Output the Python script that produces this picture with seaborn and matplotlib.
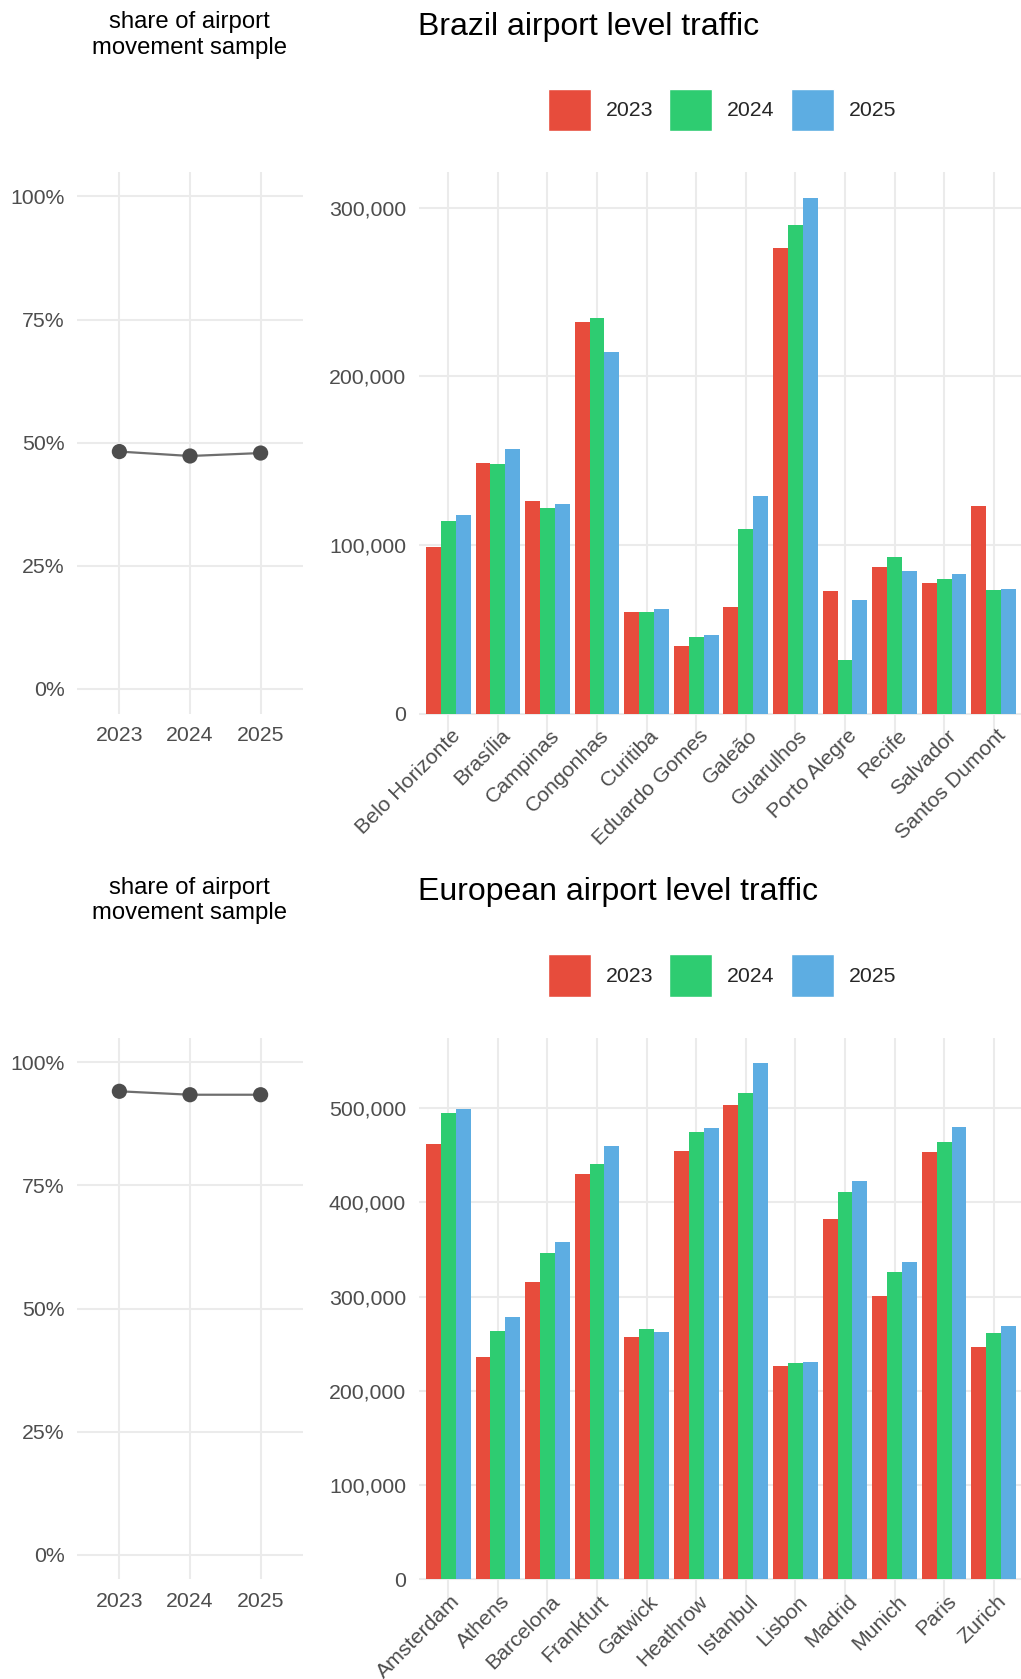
import numpy as np
import pandas as pd
import matplotlib
matplotlib.use("Agg")
import matplotlib.pyplot as plt
import matplotlib.transforms as mtransforms
import seaborn as sns
from matplotlib.ticker import FuncFormatter

# ---------------- data ----------------
years = ["2023", "2024", "2025"]

brazil_airports = ["Belo Horizonte", "Brasília", "Campinas", "Congonhas", "Curitiba",
                   "Eduardo Gomes", "Galeão", "Guarulhos", "Porto Alegre", "Recife",
                   "Salvador", "Santos Dumont"]
brazil_2023 = [98700, 148600, 126000, 231900, 60300, 40200, 63200, 276300, 72700, 86900, 77600, 123000]
brazil_2024 = [114200, 148000, 122000, 234500, 60300, 45500, 109500, 289400, 31900, 92800, 79900, 73400]
brazil_2025 = [117800, 156900, 124300, 214200, 62200, 46700, 129000, 305900, 67400, 84600, 82900, 74000]
brazil_share = [0.482, 0.473, 0.479]

europe_airports = ["Amsterdam", "Athens", "Barcelona", "Frankfurt", "Gatwick", "Heathrow",
                   "Istanbul", "Lisbon", "Madrid", "Munich", "Paris", "Zurich"]
europe_2023 = [461400, 236400, 315200, 429500, 256800, 454900, 502700, 226900, 381800, 301100, 453800, 247000]
europe_2024 = [494300, 264000, 345800, 440200, 265200, 474200, 515500, 229200, 411400, 326500, 464400, 261000]
europe_2025 = [498500, 278800, 358300, 460200, 262900, 478400, 547300, 230300, 423100, 337100, 480300, 269300]
europe_share = [0.941, 0.934, 0.934]

titles = ["Brazil airport level traffic", "European airport level traffic"]
side_title = "share of airport\nmovement sample"
brazil_ticks = [0, 100000, 200000, 300000]
europe_ticks = [0, 100000, 200000, 300000, 400000, 500000]
share_ticks = [0, 0.25, 0.5, 0.75, 1.0]

palette = {"2023": "#E74C3C", "2024": "#2ECC71", "2025": "#5DADE2"}

# ---------------- style ----------------
sns.set_theme(style="white")
plt.rcParams["font.family"] = ["Liberation Sans", "DejaVu Sans"]

W, H = 1021, 1679
fig = plt.figure(figsize=(W / 100, H / 100), dpi=100)

TICK_FS = 15.3
TICK_COLOR = "#4D4D4D"
GRID_COLOR = "#EBEBEB"


def ax_at(x0, x1, y0, y1):
    return fig.add_axes([x0 / W, 1 - y1 / H, (x1 - x0) / W, (y1 - y0) / H])


def style_ax(ax):
    for s in ax.spines.values():
        s.set_visible(False)
    ax.grid(True, color=GRID_COLOR, linewidth=1.5)
    ax.set_axisbelow(True)
    ax.tick_params(length=0, labelsize=TICK_FS, colors=TICK_COLOR, pad=9)
    ax.set_xlabel("")
    ax.set_ylabel("")


def section(off, airports, v23, v24, v25, share, yticks, title):
    # left: share line chart
    axl = ax_at(77, 303, 171.8 + off, 713.6 + off)
    dfl = pd.DataFrame({"year": years, "share": share})
    sns.lineplot(data=dfl, x="year", y="share", ax=axl, color="#6E6E6E", linewidth=1.6, sort=False)
    sns.scatterplot(data=dfl, x="year", y="share", ax=axl, color="#4D4D4D", s=120,
                    edgecolor="none", zorder=3)
    axl.set_xlim(-0.6, 2.6)
    axl.set_ylim(-0.05, 1.05)
    axl.set_yticks(share_ticks)
    axl.yaxis.set_major_formatter(FuncFormatter(lambda v, p: f"{v * 100:.0f}%"))
    style_ax(axl)

    # right: bar chart
    axb = ax_at(418.5, 1021, 171.8 + off, 739.5 + off)
    n = len(airports)
    df = pd.DataFrame({
        "airport": airports * 3,
        "year": [years[0]] * n + [years[1]] * n + [years[2]] * n,
        "movements": v23 + v24 + v25,
    })
    sns.barplot(data=df, x="airport", y="movements", hue="year", palette=palette,
                ax=axb, width=0.9, dodge=True, saturation=1, errorbar=None)
    handles, labels = axb.get_legend_handles_labels()
    if axb.get_legend() is not None:
        axb.get_legend().remove()
    for c in axb.containers:
        for p in c:
            p.set_edgecolor("none")
    vmax = df["movements"].max()
    axb.set_ylim(-0.05 * vmax, 1.05 * vmax)
    axb.set_xlim(-0.6, n - 0.45)
    axb.set_yticks(yticks)
    axb.yaxis.set_major_formatter(FuncFormatter(lambda v, p: f"{v:,.0f}"))
    style_ax(axb)
    axb.tick_params(axis="x", pad=12)
    shift = mtransforms.ScaledTranslation(0.09, 0.235, fig.dpi_scale_trans)
    for lab in axb.get_xticklabels():
        lab.set_rotation(45)
        lab.set_rotation_mode("anchor")
        lab.set_ha("right")
        lab.set_va("center")
        lab.set_transform(lab.get_transform() + shift)

    # texts
    fig.text(189.4 / W, 1 - (35 + off) / H, side_title, ha="center", va="center",
             fontsize=17.2, color="black", linespacing=1.2)
    fig.text(418.4 / W, 1 - (26.5 + off) / H, title, ha="left", va="center",
             fontsize=23, color="black")

    fig.legend(handles, labels, loc="center", bbox_to_anchor=(722 / W, 1 - (110 + off) / H),
               ncol=3, frameon=False, handlelength=2.02, handleheight=2.73,
               handletextpad=0.7, columnspacing=0.75, borderpad=0, borderaxespad=0,
               fontsize=TICK_FS)


section(0, brazil_airports, brazil_2023, brazil_2024, brazil_2025, brazil_share,
        brazil_ticks, titles[0])
section(865.8, europe_airports, europe_2023, europe_2024, europe_2025, europe_share,
        europe_ticks, titles[1])

fig.savefig("out.png", dpi=100, facecolor="white")
